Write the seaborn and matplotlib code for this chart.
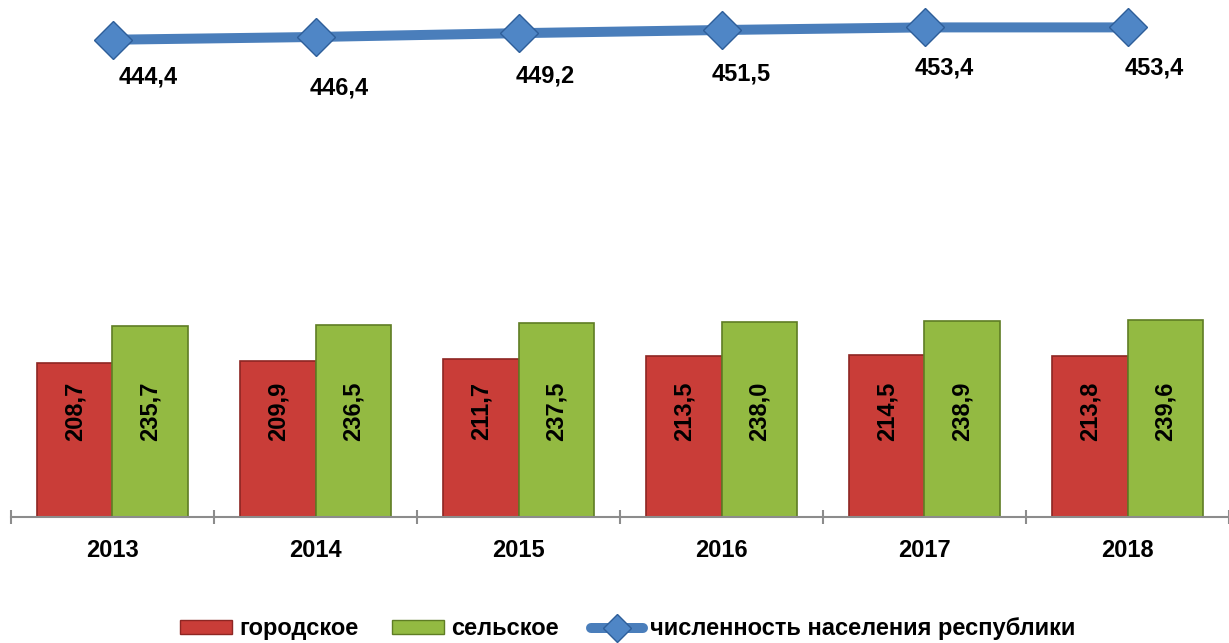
import pandas as pd
import matplotlib.pyplot as plt
import seaborn as sns
import numpy as np
from matplotlib.patches import Patch
from matplotlib.lines import Line2D

# data
years = ['2013', '2014', '2015', '2016', '2017', '2018']
urban = [208.7, 209.9, 211.7, 213.5, 214.5, 213.8]
rural = [235.7, 236.5, 237.5, 238.0, 238.9, 239.6]
total = [444.4, 446.4, 449.2, 451.5, 453.4, 453.4]
series_names = ['городское', 'сельское', 'численность населения республики']

# label offsets (points) for the line labels, placed by hand like in the original
label_dx = [26, 17, 19, 14, 14, 19]
label_dy = [-27, -37, -31, -32, -29, -29]

RED = '#C93D38'
GREEN = '#93BA42'
BLUE = '#4A7EBB'
FS = 17

def fmt(v):
    return f'{v:.1f}'.replace('.', ',')

def plot_population():
    sns.set_style('white')
    plt.rcParams['font.family'] = ['Liberation Sans', 'DejaVu Sans']
    plt.rcParams['font.weight'] = 'bold'
    plt.rcParams['text.color'] = 'black'
    plt.rcParams['xtick.color'] = 'black'

    df = pd.DataFrame({
        'year': years * 2,
        'value': urban + rural,
        'type': [series_names[0]] * len(years) + [series_names[1]] * len(years),
    })

    fig = plt.figure(figsize=(12.29, 6.43), dpi=100)
    ax = fig.add_axes([11 / 1229, 126 / 643, 1218 / 1229, 517 / 643])

    sns.barplot(data=df, x='year', y='value', hue='type', palette=[RED, GREEN],
                width=0.74, gap=0, ax=ax, legend=False, saturation=1)
    edge = {0: '#8E2623', 1: '#5F7D24'}
    for i, cont in enumerate(ax.containers):
        for bar, v in zip(cont, df[df['type'] == series_names[i]]['value']):
            bar.set_edgecolor(edge[i])
            bar.set_linewidth(1.2)
            ax.text(bar.get_x() + bar.get_width() / 2, 0.205, fmt(v),
                    transform=ax.get_xaxis_transform(), rotation=90,
                    ha='center', va='center', fontsize=FS, fontweight='bold')

    # total population line
    ax.plot(range(len(years)), total, color=BLUE, lw=7.2, marker='D', ms=19,
            markerfacecolor='#4F86C6', markeredgecolor='#2E5E99', markeredgewidth=1,
            solid_capstyle='butt', zorder=5)
    for i, v in enumerate(total):
        ax.annotate(fmt(v), (i, v), xytext=(label_dx[i], label_dy[i]),
                    textcoords='offset points', ha='center', va='center',
                    fontsize=FS, fontweight='bold')

    ax.set_xlim(-0.5, 5.5)
    ax.set_ylim(96, 473.4)
    ax.set_yticks([])
    ax.set_xlabel('')
    ax.set_ylabel('')
    for s in ['top', 'right', 'left']:
        ax.spines[s].set_visible(False)
    ax.spines['bottom'].set_color('#8C8C8C')
    ax.spines['bottom'].set_linewidth(1.5)

    ax.set_xticks(range(len(years)))
    ax.set_xticklabels(years, fontsize=FS, fontweight='bold')
    ax.tick_params(axis='x', which='major', length=0, pad=16)
    ax.set_xticks(np.arange(-0.5, 6, 1), minor=True)
    ax.tick_params(axis='x', which='minor', bottom=True, length=10, direction='inout',
                   color='#8C8C8C', width=1.5)

    handles = [
        Patch(facecolor=RED, edgecolor='#8E2623'),
        Patch(facecolor=GREEN, edgecolor='#5F7D24'),
        Line2D([0], [0], color=BLUE, lw=7.2, marker='D', ms=14,
               markerfacecolor='#4F86C6', markeredgecolor='#2E5E99'),
    ]
    fig.legend(handles, series_names, loc='center', bbox_to_anchor=(0.511, 0.022),
               ncol=3, frameon=False, handlelength=2.2,
               handleheight=0.5, handletextpad=0.3, columnspacing=1.4,
               prop={'weight': 'bold', 'size': FS})

    fig.savefig('out.png', dpi=100)

if __name__ == '__main__':
    plot_population()
